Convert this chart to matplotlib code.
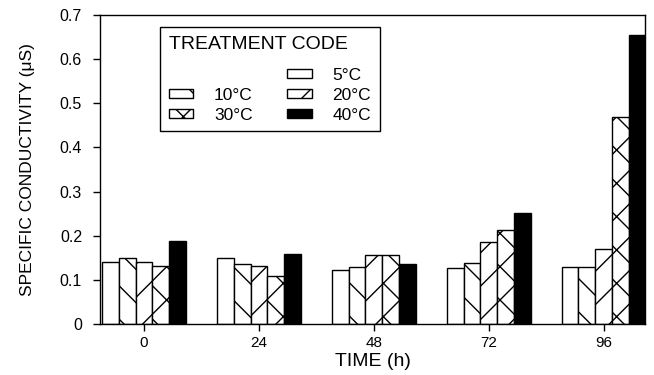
import matplotlib
matplotlib.use("Agg")
import matplotlib.pyplot as plt
from matplotlib.patches import Patch
import numpy as np

# Specific conductivity by sampling time and treatment temperature
times = [0, 24, 48, 72, 96]
treatments = ["5°C", "10°C", "20°C", "30°C", "40°C"]
cond_5 = [0.141, 0.150, 0.122, 0.127, 0.130]
cond_10 = [0.150, 0.137, 0.130, 0.139, 0.130]
cond_20 = [0.141, 0.131, 0.156, 0.186, 0.171]
cond_30 = [0.131, 0.109, 0.156, 0.214, 0.470]
cond_40 = [0.188, 0.159, 0.137, 0.252, 0.655]
yticks = [0, 0.1, 0.2, 0.3, 0.4, 0.5, 0.6, 0.7]
ytick_labels = ["0", "0.1", "0.2", "0.3", "0.4", "0.5", "0.6", "0.7"]

series = [cond_5, cond_10, cond_20, cond_30, cond_40]
hatches = ["", "\\", "/", "x", ""]
faces = ["white", "white", "white", "white", "black"]

plt.rcParams["font.family"] = ["Liberation Sans", "DejaVu Sans"]
plt.rcParams["hatch.linewidth"] = 1.0

fig = plt.figure(figsize=(6.54, 3.75), dpi=100)
ax = fig.add_axes([0.153, 0.136, 0.834, 0.824])

width = 3.5
x = np.array(times, dtype=float)
bars = []
for i, (vals, h, fc) in enumerate(zip(series, hatches, faces)):
    b = ax.bar(x + (i - 2) * width, vals, width=width, facecolor=fc,
               edgecolor="black", hatch=h, linewidth=1.0, label=treatments[i])
    bars.append(b)

ax.set_xlim(-9.2, 104.75)
ax.set_ylim(0, 0.7)
ax.set_xticks(times)
ax.set_xticklabels([str(t) for t in times], fontsize=11)
ax.set_yticks(yticks)
ax.set_yticklabels(ytick_labels, fontsize=11.5)
ax.tick_params(direction="out", length=5, width=1.0)
ax.tick_params(axis="y", pad=8)
for s in ax.spines.values():
    s.set_linewidth(1.0)

ax.set_xlabel("TIME (h)", fontsize=14, labelpad=2)
ax.set_ylabel("SPECIFIC CONDUCTIVITY (\u03bcS)", fontsize=12.5, labelpad=18)

# legend: column 1 = blank, 10, 30 ; column 2 = 5, 20, 40
blank = Patch(facecolor="none", edgecolor="none")
handles = [blank, bars[1], bars[3], bars[0], bars[2], bars[4]]
labels = ["", "10°C", "30°C", "5°C", "20°C", "40°C"]
leg = ax.legend(handles, labels, ncol=2, title="TREATMENT CODE",
                loc="upper left", bbox_to_anchor=(0.11, 0.961),
                borderaxespad=0, fontsize=12.5, title_fontsize=14,
                frameon=True, fancybox=False, edgecolor="black",
                framealpha=1, handlelength=1.4, handleheight=0.45,
                columnspacing=2.0, borderpad=0.5, labelspacing=0.28,
                handletextpad=1.2)
leg.get_frame().set_linewidth(1.0)
leg._legend_box.align = "left"
leg._legend_box.sep = 11

fig.savefig("out.png", dpi=100)
